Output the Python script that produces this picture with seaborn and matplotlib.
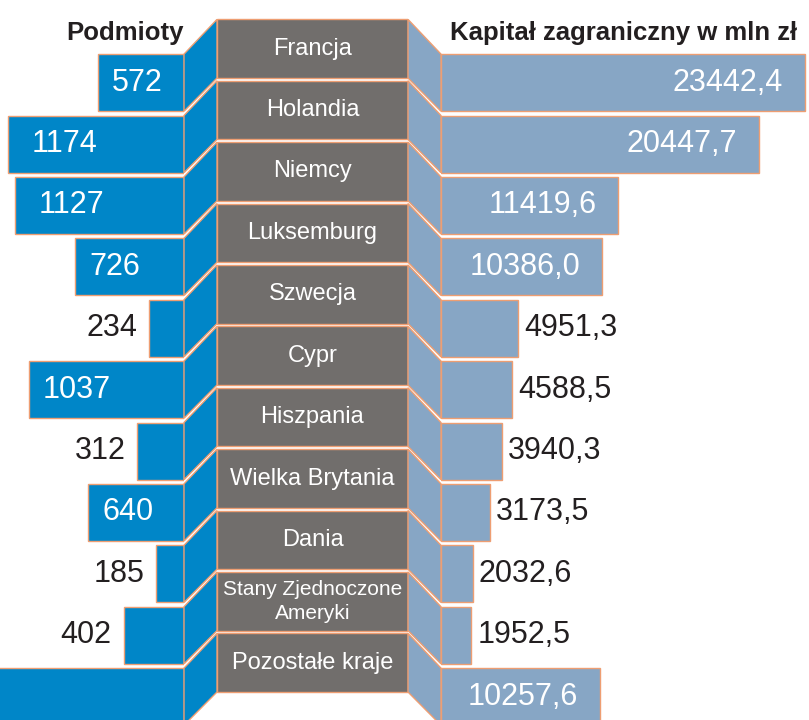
import numpy as np
import pandas as pd
import matplotlib.pyplot as plt
import seaborn as sns
from matplotlib.patches import Polygon


# Data
countries = ['Francja', 'Holandia', 'Niemcy', 'Luksemburg', 'Szwecja', 'Cypr',
             'Hiszpania', 'Wielka Brytania', 'Dania', 'Stany Zjednoczone\nAmeryki',
             'Pozostałe kraje']
podmioty = [572, 1174, 1127, 726, 234, 1037, 312, 640, 185, 402, 2415]
kapital = [23442.4, 20447.7, 11419.6, 10386.0, 4951.3, 4588.5, 3940.3, 3173.5,
           2032.6, 1952.5, 10257.6]

df = pd.DataFrame({'kraj': countries, 'podmioty': podmioty, 'kapital': kapital})

sns.set_style('white')
plt.rcParams['font.family'] = ['Liberation Sans', 'DejaVu Sans']

W, H = 809, 720
fig = plt.figure(figsize=(W / 100, H / 100), dpi=100)

blue = '#0086C8'
steel = '#87A6C5'
grey = '#716E6C'
orange = '#EE9E72'

# layout in pixels
pitch = 61.4
top = 18
shift = 34 / pitch          # side bars sit lower than the centre boxes
span = (H - top) / pitch


def fx(px):
    return px / W


ax_c = fig.add_axes([fx(217), 0, fx(408) - fx(217), (H - top) / H])
ax_l = fig.add_axes([0, 0, fx(184), (H - top) / H])
ax_r = fig.add_axes([fx(441), 0, fx(W) - fx(441), (H - top) / H])

# left: Podmioty
sns.barplot(data=df, x='podmioty', y='kraj', orient='h', ax=ax_l, color=blue,
            saturation=1, width=0.93, edgecolor=orange, linewidth=1)
ax_l.set_xlim(184 / 0.1499, 0)

# right: Kapitał zagraniczny
sns.barplot(data=df, x='kapital', y='kraj', orient='h', ax=ax_r, color=steel,
            saturation=1, width=0.93, edgecolor=orange, linewidth=1)
ax_r.set_xlim(0, 368 / 0.01553)

# centre boxes with country names
sns.barplot(x=np.ones(len(countries)), y=countries, orient='h', ax=ax_c,
            color=grey, saturation=1, width=0.955, edgecolor=orange, linewidth=1)
ax_c.set_xlim(0, 1)

ax_c.set_ylim(-0.5 + span, -0.5)
ax_l.set_ylim(-0.5 - shift + span, -0.5 - shift)
ax_r.set_ylim(-0.5 - shift + span, -0.5 - shift)

for ax in (ax_l, ax_r, ax_c):
    ax.axis('off')

for i, name in enumerate(countries):
    size = 15 if '\n' in name else 17
    ax_c.text(0.5, i, name, ha='center', va='center', color='white',
              fontsize=size, linespacing=1.3)

# value labels
for i, v in enumerate(podmioty):
    if v > 184 / 0.1499:
        continue  # label falls outside the picture
    if v >= 500:
        pad = 24 if v > 1100 else 14
        ax_l.annotate(str(v), (v, i), xytext=(pad, 0), textcoords='offset pixels',
                      ha='left', va='center', color='white', fontsize=22)
    else:
        ax_l.annotate(str(v), (v, i), xytext=(-12, 0), textcoords='offset pixels',
                      ha='right', va='center', color='#231F20', fontsize=22)

for i, v in enumerate(kapital):
    txt = f'{v:.1f}'.replace('.', ',')
    if v >= 10000:
        ax_r.annotate(txt, (v, i), xytext=(-22, 0), textcoords='offset pixels',
                      ha='right', va='center', color='white', fontsize=22)
    else:
        ax_r.annotate(txt, (v, i), xytext=(6, 0), textcoords='offset pixels',
                      ha='left', va='center', color='#231F20', fontsize=22)

# slanted connectors between side bars and centre boxes
to_fig = fig.transFigure.inverted()
for i in range(len(countries)):
    hb = 0.93 / 2
    hc = 0.955 / 2
    l_top = ax_l.transData.transform((0, i - hb))
    l_bot = ax_l.transData.transform((0, i + hb))
    c_ltop = ax_c.transData.transform((0, i - hc))
    c_lbot = ax_c.transData.transform((0, i + hc))
    c_rtop = ax_c.transData.transform((1, i - hc))
    c_rbot = ax_c.transData.transform((1, i + hc))
    r_top = ax_r.transData.transform((0, i - hb))
    r_bot = ax_r.transData.transform((0, i + hb))

    left_pts = to_fig.transform(np.array([l_top, c_ltop, c_lbot, l_bot]))
    right_pts = to_fig.transform(np.array([c_rtop, r_top, r_bot, c_rbot]))
    fig.add_artist(Polygon(left_pts, closed=True, transform=fig.transFigure,
                           facecolor=blue, edgecolor=orange, linewidth=1))
    fig.add_artist(Polygon(right_pts, closed=True, transform=fig.transFigure,
                           facecolor=steel, edgecolor=orange, linewidth=1))

# headers
fig.text(fx(184), 1 - 40 / H, 'Podmioty', ha='right', va='baseline',
         fontsize=18.5, fontweight='bold', color='#231F20')
fig.text(fx(450), 1 - 40 / H, 'Kapitał zagraniczny w mln zł', ha='left',
         va='baseline', fontsize=18.5, fontweight='bold', color='#231F20')

fig.savefig('out.png', dpi=100, facecolor='white')
